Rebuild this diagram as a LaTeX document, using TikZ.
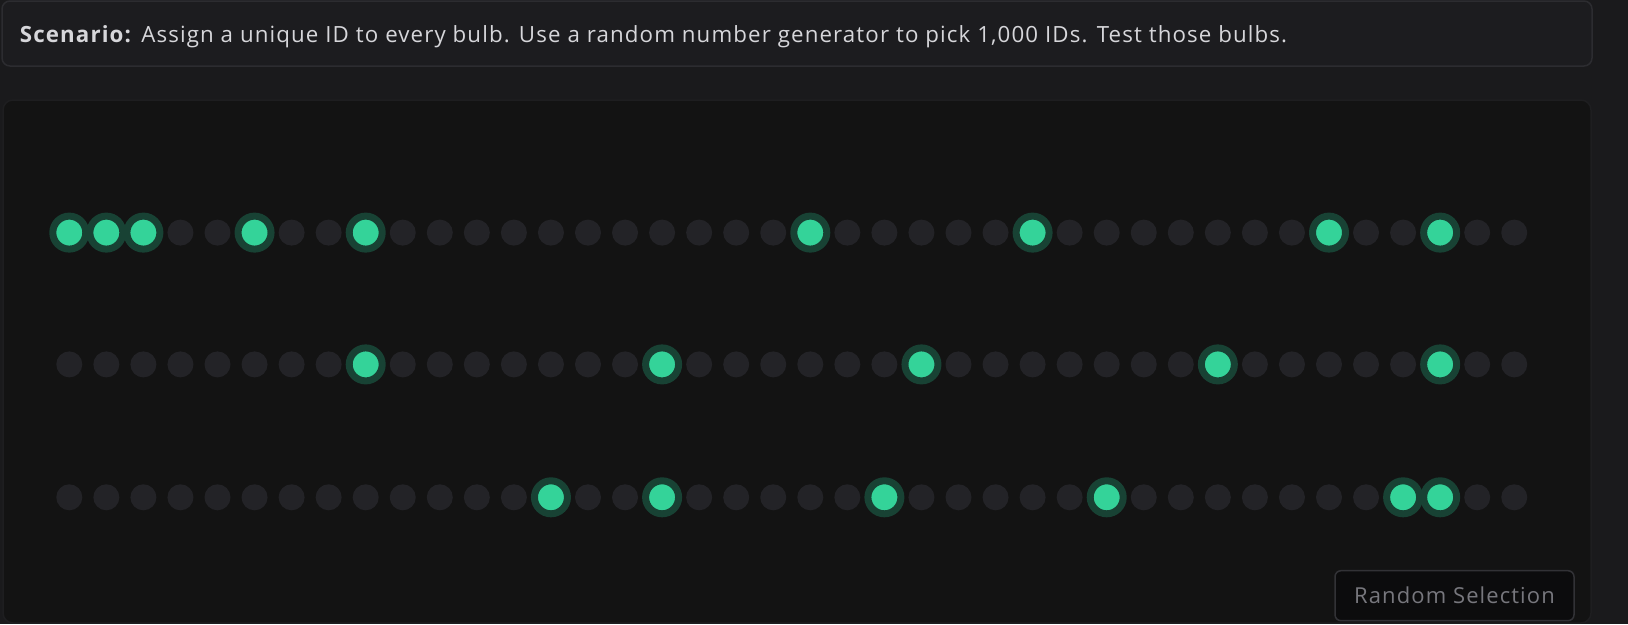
\documentclass[tikz,border=0pt]{standalone}
\usepackage{fontspec}
\setmainfont[LetterSpace=5]{Open Sans}
\definecolor{pagebg}{HTML}{1A1A1C}
\definecolor{bannerbg}{HTML}{1C1C1F}
\definecolor{bannerline}{HTML}{2C2C30}
\definecolor{panelbg}{HTML}{131313}
\definecolor{panelline}{HTML}{1E1E20}
\definecolor{dotgray}{HTML}{232327}
\definecolor{bulbgreen}{HTML}{34D399}
\definecolor{halo}{HTML}{184234}
\definecolor{bannertext}{HTML}{D6D6DA}
\definecolor{btntext}{HTML}{77777D}
\definecolor{btnbg}{HTML}{0C0C0D}
\definecolor{btnline}{HTML}{323236}
\newif\ifbulb
\newcommand\bulbrow[3]{%
  \foreach \i in {0,...,39}{%
    \global\bulbfalse
    \foreach \s in {#3}{\ifnum\s=\i\relax\global\bulbtrue\fi}%
    \ifbulb
      \node[bulbon] (b#1-\i) at ({69.3+37.05*\i},#2) {};%
    \else
      \node[bulboff] (b#1-\i) at ({69.3+37.05*\i},#2) {};%
    \fi
  }}
\begin{document}
\begin{tikzpicture}[x=1pt,y=-1pt,
  bulboff/.style={circle,fill=dotgray,minimum size=26pt,inner sep=0pt,outer sep=0pt},
  bulbon/.style={circle,fill=bulbgreen,draw=halo,line width=7pt,minimum size=33pt,inner sep=0pt,outer sep=0pt},
  btn/.style={draw=btnline,fill=btnbg,line width=1.5pt,rounded corners=6pt,minimum width=239pt,minimum height=50pt,inner sep=0pt,text=btntext,font=\fontsize{22}{26}\selectfont}]
\fill[pagebg] (0,0) rectangle (1628,624);
\useasboundingbox (0,0) rectangle (1628,624);
\draw[bannerline,fill=bannerbg,line width=1.5pt,rounded corners=8pt] (2,1) rectangle (1592,66);
\node[anchor=base west,inner sep=0pt,text=bannertext,font=\fontsize{22.3}{26}\selectfont] (scen) at (19.7,42) {\textbf{Scenario:} Assign a unique ID to every bulb. Use a random number generator to pick 1,000 IDs. Test those bulbs.};
\draw[panelline,fill=panelbg,line width=1.5pt,rounded corners=10pt] (3,100) rectangle (1591,623);
\bulbrow{1}{232.6}{0,1,2,5,8,20,26,34,37}
\bulbrow{2}{364.4}{8,16,23,31,37}
\bulbrow{3}{497.3}{13,16,22,28,36,37}
\node[btn] (btn) at (1454.5,595.7) {Random Selection};
\end{tikzpicture}
\end{document}
